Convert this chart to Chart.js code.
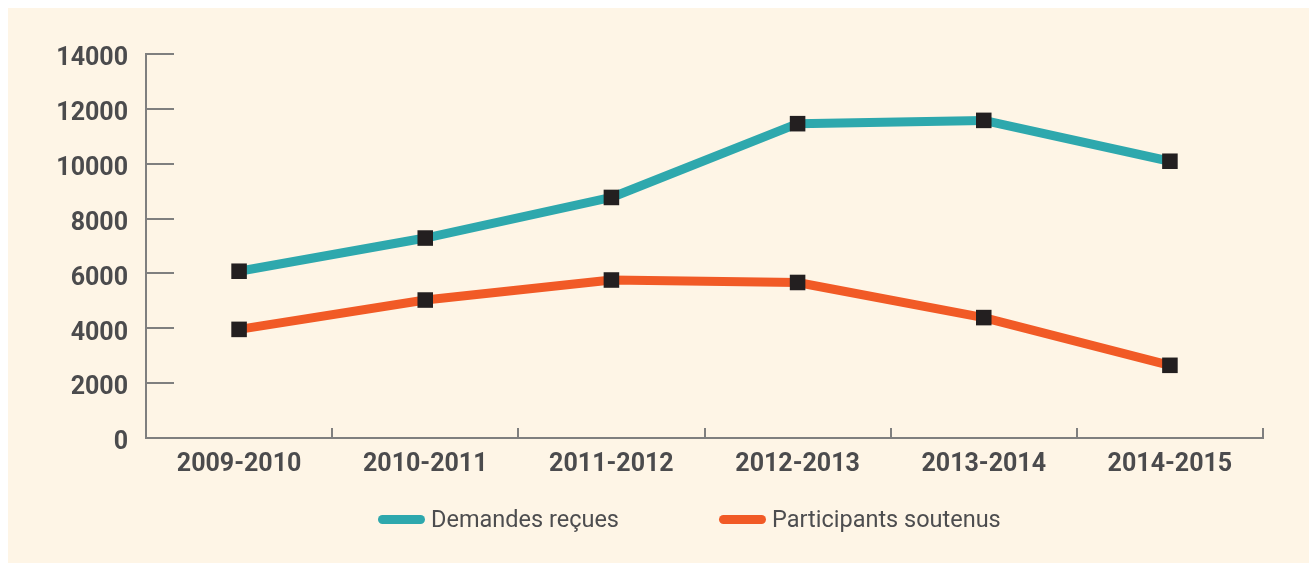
<!DOCTYPE html>
<html>
<head>
<meta charset="utf-8">
<script src="https://cdn.jsdelivr.net/npm/chart.js@4/dist/chart.umd.min.js"></script>
<style>
  html, body { margin:0; padding:0; background:#fff; }
  #wrap { position:absolute; left:8px; top:8px; width:1301px; height:555px; background:#fef5e6; }
  #chart { position:absolute; left:0; top:0; }
  .leg { position:absolute; top:496px; height:30px; display:flex; align-items:center;
         font:400 23.5px Roboto, sans-serif; color:#4d4d4f; white-space:nowrap; }
  .leg .bar { width:47px; height:9px; border-radius:5px; margin-right:6px; }
</style>
</head>
<body>
<div id="wrap">
  <canvas id="chart" width="1301" height="555"></canvas>
  <div class="leg" style="left:370px"><span class="bar" style="background:#2ea8ad"></span>Demandes reçues</div>
  <div class="leg" style="left:711px"><span class="bar" style="background:#f15a26"></span>Participants soutenus</div>
</div>
<script>
/* ---------- Data ---------- */
const YEARS = ["2009-2010","2010-2011","2011-2012","2012-2013","2013-2014","2014-2015"];
const DEMANDES = [6080, 7290, 8770, 11460, 11580, 10090];
const PARTICIPANTS = [3960, 5030, 5760, 5670, 4390, 2650];
const Y_TICKS = [0, 2000, 4000, 6000, 8000, 10000, 12000, 14000];

const AXIS = "#7f7f7f";
const TEXT = "#4b4b4d";
const TICK_FONT = { family: "Roboto", weight: "bold", size: 25 };

// inward tick marks, positions from the chart's own scales
const innerTicks = {
  id: "innerTicks",
  afterDatasetsDraw(c){
    const g = c.ctx, x = c.scales.x, y = c.scales.y;
    g.save();
    g.strokeStyle = AXIS;
    g.lineWidth = 2;
    g.beginPath();
    Y_TICKS.forEach(v=>{
      if (!v) return;
      const py = Math.round(y.getPixelForValue(v));
      g.moveTo(x.left, py); g.lineTo(x.left + 28, py);
    });
    for (let i = 1; i <= YEARS.length; i++){
      const px = Math.round(x.getPixelForValue(i - 0.5));
      g.moveTo(px, y.bottom); g.lineTo(px, y.bottom - 10);
    }
    g.stroke();
    g.restore();
  }
};

function series(label, data, color){
  return {
    label, data,
    borderColor: color,
    borderWidth: 9,
    borderJoinStyle: "round",
    tension: 0,
    pointStyle: "rect",
    pointRadius: 11,
    pointHoverRadius: 11,
    pointBackgroundColor: "#231f20",
    pointBorderWidth: 0
  };
}

new Chart(document.getElementById("chart"), {
  type: "line",
  data: {
    labels: YEARS,
    datasets: [
      series("Demandes reçues", DEMANDES, "#2ea8ad"),
      series("Participants soutenus", PARTICIPANTS, "#f15a26")
    ]
  },
  options: {
    responsive: false,
    animation: false,
    layout: { padding: { left: 0, top: 46, right: 46, bottom: 65 } },
    plugins: { legend: { display: false }, tooltip: { enabled: false } },
    scales: {
      x: {
        offset: true,
        grid: { display: false, drawTicks: false },
        border: { display: true, color: AXIS, width: 2 },
        ticks: { color: TEXT, padding: 12, font: TICK_FONT },
        afterFit(s){ s.height = 60; }
      },
      y: {
        min: 0, max: 14000,
        grid: { display: false, drawTicks: false },
        border: { display: true, color: AXIS, width: 2 },
        afterBuildTicks(s){ s.ticks = Y_TICKS.map(v=>({ value: v })); },
        ticks: { color: TEXT, padding: 18, labelOffset: 5, font: TICK_FONT, callback: v => String(v) },
        afterFit(s){ s.width = 138; }
      }
    }
  },
  plugins: [innerTicks]
});
</script>
</body>
</html>
